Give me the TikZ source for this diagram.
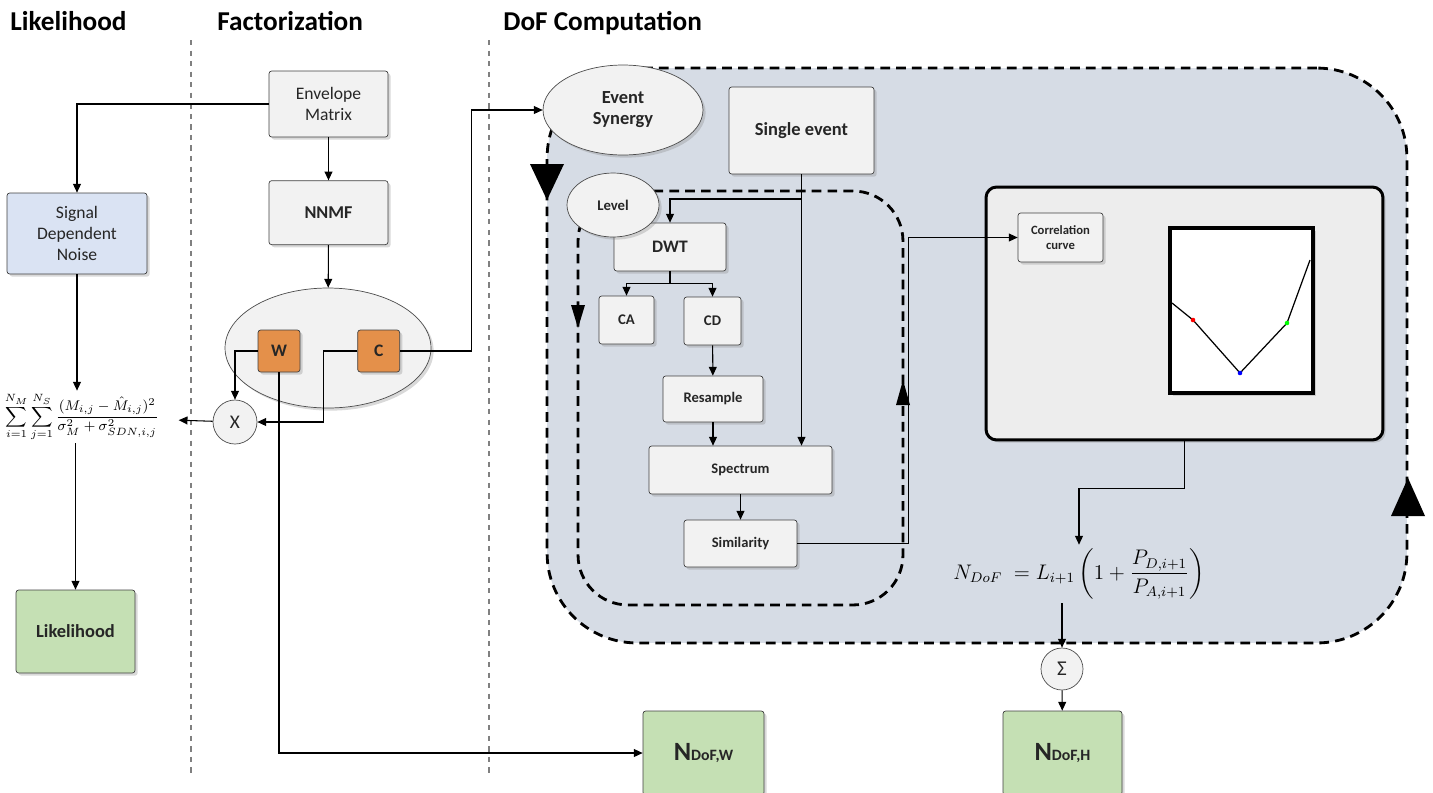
\documentclass[tikz,border=0pt]{standalone}
\usepackage{fontspec}
\setmainfont{Carlito}
\usepackage{amsmath}
\usetikzlibrary{arrows.meta, positioning, shapes.geometric, shadows, calc}
\definecolor{boxgray}{HTML}{F2F2F2}
\definecolor{noiseblue}{HTML}{DAE3F3}
\definecolor{outgreen}{HTML}{C5E0B4}
\definecolor{facorange}{HTML}{E4904A}
\definecolor{loopblue}{HTML}{D6DCE5}
\definecolor{panelgray}{HTML}{EDEDED}

\begin{document}
\begin{tikzpicture}[
    x=0.02cm, y=-0.02cm,
    every node/.style={text=black!85},
    shade/.style={drop shadow={shadow xshift=1.5pt, shadow yshift=-1.5pt, opacity=0.3}},
    block/.style={draw=black!75, fill=#1, rounded corners=1.5pt, align=center, inner sep=2pt, shade},
    block/.default=boxgray,
    blob/.style={ellipse, draw=black!70, fill=boxgray, align=center, inner sep=0pt, shade},
    arr/.style={-{Triangle[length=5pt, width=4.5pt]}, line width=0.6pt},
    loopline/.style={line width=1.6pt, dash pattern=on 5.5pt off 3.5pt},
    sep/.style={gray, dashed, line width=0.6pt},
    title/.style={font=\fontsize{15.5}{17}\selectfont\bfseries, anchor=base west, inner sep=0pt, text=black},
    txt/.style={font=\fontsize{#1}{12}\selectfont},
    btxt/.style={font=\fontsize{#1}{12}\selectfont\bfseries},
]
    \useasboundingbox (0,0) rectangle (1433,792);
    \clip (0,0) rectangle (1433,792);

    % Column titles and separators
    \node[title] (t1) at (10,30) {Likelihood};
    \node[title] (t2) at (217,30) {Factorization};
    \node[title] (t3) at (503,30) {DoF Computation};
    \draw[sep] (191,40) -- (191,775);
    \draw[sep] (489,40) -- (489,775);

    % DoF loop region
    \node[draw, loopline, fill=loopblue, rounded corners=1.8cm, minimum width=17.2cm, minimum height=11.5cm] (outer) at (977,355.5) {};
    \fill (530,164) -- (564,164) -- (547,200) -- cycle;
    \fill (1391,516) -- (1425,516) -- (1408,478) -- cycle;
    \node[draw, loopline, rounded corners=1cm, minimum width=6.5cm, minimum height=8.28cm] (inner) at (740.5,398) {};
    \fill (571,305) -- (585,305) -- (578,328) -- cycle;
    \fill (896,405) -- (910,405) -- (903,380) -- cycle;

    % Likelihood
    \node[block=noiseblue, minimum width=2.8cm, minimum height=1.62cm, txt=10] (sdn) at (77,233.5) {Signal\\Dependent\\Noise};
    \node[inner sep=1pt, font=\fontsize{8.3}{10}\selectfont, text=black] (eq1) at (82,417) {$\displaystyle\sum\limits_{i=1}^{N_M}\sum\limits_{j=1}^{N_S}\frac{(M_{i,j}-\hat{M}_{i,j})^2}{\sigma_M^2+\sigma_{SDN,i,j}^2}$};
    \node[block=outgreen, minimum width=2.38cm, minimum height=1.66cm, btxt=10.5] (lik) at (75.5,631.5) {Likelihood};

    % Factorization
    \node[block, minimum width=2.38cm, minimum height=1.32cm, txt=10] (env) at (328.5,104) {Envelope\\Matrix};
    \node[block, minimum width=2.38cm, minimum height=1.28cm, btxt=10.3, below=0.86cm of env] (nnmf) {NNMF};
    \node[blob, minimum width=4.12cm, minimum height=2.4cm] (fac) at (328,348) {};
    \node[block=facorange, minimum size=0.84cm, btxt=10] (w) at (279,351) {W};
    \node[block=facorange, minimum size=0.84cm, btxt=10, right=1.14cm of w] (c) {C};
    \node[circle, draw=black!70, fill=boxgray, minimum size=0.88cm, inner sep=0pt, txt=11] (mult) at (235,422) {X};

    % DoF computation
    \node[blob, minimum width=3.2cm, minimum height=1.8cm, btxt=10.5] (evsyn) at (623,110) {Event\\Synergy};
    \node[block, minimum width=2.9cm, minimum height=1.74cm, btxt=10.5] (single) at (801.5,130.5) {Single event};
    \node[block, minimum width=2.24cm, minimum height=0.96cm, btxt=10] (dwt) at (670,247) {DWT};
    \node[blob, minimum width=1.84cm, minimum height=1.28cm, btxt=8.4] (level) at (613,205) {Level};
    \node[block, minimum width=1.1cm, minimum height=0.96cm, btxt=8.4] (ca) at (626.5,320) {CA};
    \node[block, minimum width=1.14cm, minimum height=0.96cm, btxt=8.4] (cd) at (712.5,321) {CD};
    \node[block, minimum width=2cm, minimum height=0.92cm, btxt=8.3] (res) at (713,399) {Resample};
    \node[block, minimum width=3.66cm, minimum height=0.96cm, btxt=8.3] (spec) at (740.5,470) {Spectrum};
    \node[block, minimum width=2.26cm, minimum height=0.94cm, btxt=8.3] (sim) at (740.5,543.5) {Similarity};

    \node[draw=black, line width=1.7pt, fill=panelgray, rounded corners=6pt, minimum width=7.94cm, minimum height=5.06cm, shade] (gbox) at (1184.5,313.5) {};
    \node[block, minimum width=1.7cm, minimum height=0.98cm, font=\fontsize{7.2}{8.5}\selectfont\bfseries] (corr) at (1060.5,237.5) {Correlation\\curve};
    \node[draw=black, line width=2.2pt, fill=white, minimum width=2.86cm, minimum height=3.3cm, shade] (plot) at (1241.5,310.5) {};
    \draw[line width=0.7pt] (1172,303) -- (1193,320) -- (1240,373) -- (1287,323) -- (1310,260);
    \fill[red] (1193,320) circle (1.3pt);
    \fill[blue] (1240,373) circle (1.3pt);
    \fill[green] (1287,323) circle (1.3pt);

    \node[inner sep=2pt, font=\fontsize{12}{14}\selectfont, text=black] (eq2) at (1079,574) {$\displaystyle N_{DoF}\;=L_{i+1}\left(1+\frac{P_{D,i+1}}{P_{A,i+1}}\right)$};
    \node[circle, draw=black!70, fill=boxgray, minimum size=0.84cm, inner sep=0pt, txt=12] (sigma) at (1062,669) {Σ};

    % Outputs
    \node[block=outgreen, minimum width=2.42cm, minimum height=1.68cm] (ndofw) at (703.5,753) {{\fontsize{15}{15}\selectfont\bfseries N}{\fontsize{9}{10}\selectfont\bfseries DoF,W}};
    \node[block=outgreen, minimum width=2.38cm, minimum height=1.68cm] (ndofh) at (1062.5,753) {{\fontsize{15}{15}\selectfont\bfseries N}{\fontsize{9}{10}\selectfont\bfseries DoF,H}};

    % Connectors
    \draw[arr] (env.west) -| (sdn.north);
    \draw[arr] (env) -- (nnmf);
    \draw[arr] (nnmf) -- (fac);
    \draw[arr] (sdn.south) -- (sdn.south |- eq1.north);
    \draw[arr] (lik.north |- eq1.south) -- (lik.north);
    \draw[arr, shorten >=10pt] (mult) -- (eq1);
    \draw[arr] (w.west) -| (mult.north);
    \draw[arr] (c.west) -- ++(-34,0) |- (mult.east);
    \draw[arr] (w.south) |- (ndofw.west);
    \draw[arr] (c.east) -- ++(71,0) |- (evsyn.west);

    \coordinate (split) at (801.5,199);
    \draw[arr] (single.south) -- (single.south |- spec.north);
    \draw[arr] (split) -| (dwt.north);
    \draw[arr] (dwt.south) -- ++(0,12) -| (ca.north);
    \draw[arr] (dwt.south) -- ++(0,12) -| (cd.north);
    \draw[arr] (cd) -- (res);
    \draw[arr] (res) -- (res |- spec.north);
    \draw[arr] (spec) -- (sim);
    \draw[arr] (sim.east) -- ++(111,0) |- (corr.west);

    \draw[arr] (gbox.south) -- ++(0,47) -| (eq2.north);
    \draw[arr] (sigma |- eq2.south) -- (sigma);
    \draw[arr] (sigma) -- (ndofh);
\end{tikzpicture}
\end{document}
